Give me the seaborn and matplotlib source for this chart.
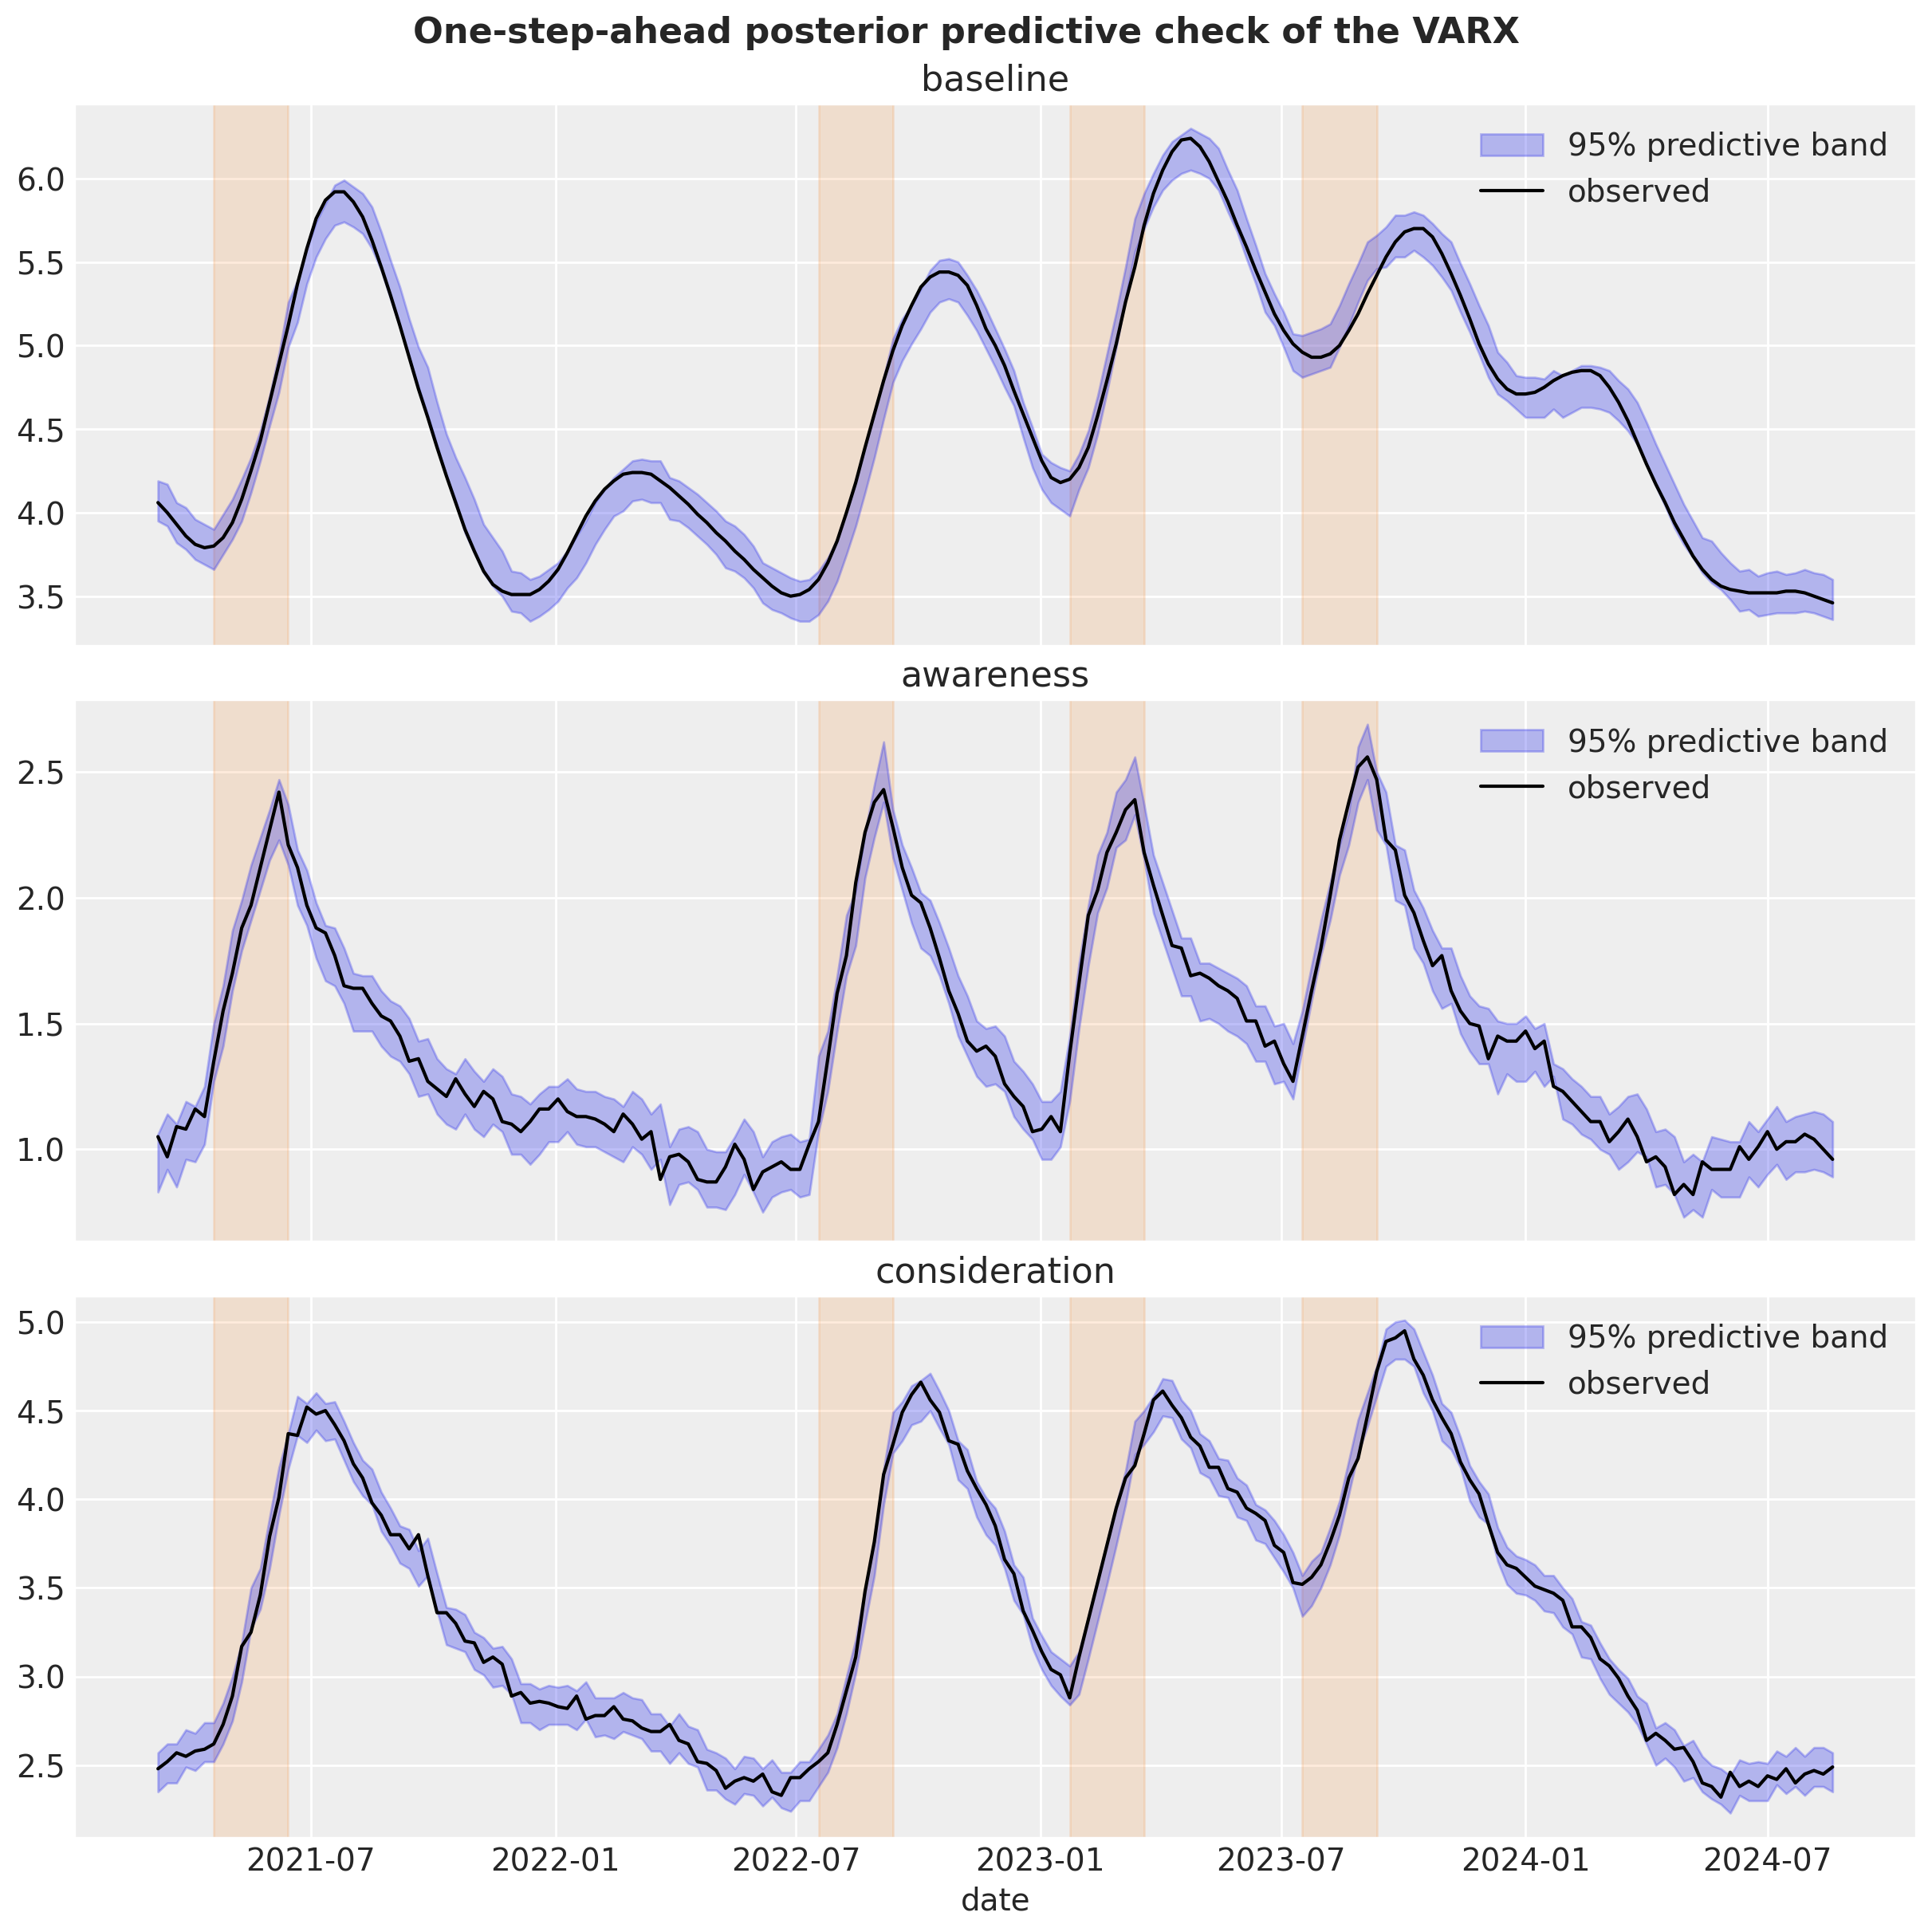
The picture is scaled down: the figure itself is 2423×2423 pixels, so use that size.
import matplotlib
matplotlib.use("Agg")
import matplotlib.pyplot as plt
import matplotlib.dates as mdates
import pandas as pd
import seaborn as sns

# weekly series, first week starts on this monday
start_date = "2021-03-08"
channels = ["baseline", "awareness", "consideration"]

baseline_obs = [
    4.06, 4.00, 3.93, 3.86, 3.81, 3.79, 3.80, 3.85, 3.94, 4.08,
    4.25, 4.43, 4.66, 4.89, 5.12, 5.37, 5.58, 5.76, 5.87, 5.92,
    5.92, 5.86, 5.77, 5.63, 5.47, 5.30, 5.12, 4.93, 4.74, 4.57,
    4.39, 4.22, 4.06, 3.90, 3.77, 3.65, 3.57, 3.53, 3.51, 3.51,
    3.51, 3.54, 3.59, 3.66, 3.76, 3.87, 3.98, 4.07, 4.14, 4.19,
    4.23, 4.24, 4.24, 4.23, 4.19, 4.15, 4.10, 4.05, 3.99, 3.94,
    3.88, 3.83, 3.77, 3.72, 3.66, 3.61, 3.56, 3.52, 3.50, 3.51,
    3.54, 3.60, 3.70, 3.83, 4.00, 4.18, 4.39, 4.59, 4.79, 4.97,
    5.12, 5.24, 5.35, 5.41, 5.44, 5.44, 5.42, 5.36, 5.24, 5.10,
    5.00, 4.88, 4.73, 4.59, 4.45, 4.31, 4.21, 4.18, 4.20, 4.27,
    4.39, 4.58, 4.79, 5.01, 5.26, 5.47, 5.72, 5.91, 6.05, 6.16,
    6.23, 6.24, 6.19, 6.10, 5.98, 5.86, 5.72, 5.59, 5.45, 5.32,
    5.19, 5.09, 5.01, 4.96, 4.93, 4.93, 4.95, 5.00, 5.09, 5.19,
    5.31, 5.42, 5.53, 5.62, 5.68, 5.70, 5.70, 5.65, 5.55, 5.43,
    5.30, 5.16, 5.01, 4.89, 4.80, 4.74, 4.71, 4.71, 4.72, 4.75,
    4.79, 4.82, 4.84, 4.85, 4.85, 4.82, 4.75, 4.66, 4.55, 4.42,
    4.29, 4.17, 4.06, 3.94, 3.84, 3.74, 3.66, 3.60, 3.56, 3.54,
    3.53, 3.52, 3.52, 3.52, 3.52, 3.53, 3.53, 3.52, 3.50, 3.48,
    3.46,
]
baseline_upper = [
    4.19, 4.17, 4.06, 4.03, 3.96, 3.93, 3.90, 3.99, 4.08, 4.20,
    4.33, 4.49, 4.70, 4.95, 5.26, 5.39, 5.58, 5.74, 5.85, 5.96,
    5.99, 5.95, 5.91, 5.83, 5.68, 5.51, 5.35, 5.16, 4.99, 4.87,
    4.66, 4.47, 4.33, 4.21, 4.08, 3.93, 3.85, 3.77, 3.65, 3.64,
    3.60, 3.62, 3.66, 3.70, 3.77, 3.86, 3.95, 4.06, 4.14, 4.21,
    4.26, 4.31, 4.32, 4.31, 4.31, 4.21, 4.19, 4.15, 4.11, 4.06,
    4.01, 3.95, 3.92, 3.87, 3.80, 3.70, 3.67, 3.64, 3.61, 3.59,
    3.60, 3.65, 3.73, 3.84, 4.01, 4.19, 4.39, 4.60, 4.81, 5.04,
    5.16, 5.24, 5.34, 5.45, 5.51, 5.52, 5.50, 5.42, 5.33, 5.22,
    5.10, 4.98, 4.85, 4.66, 4.51, 4.35, 4.30, 4.27, 4.25, 4.35,
    4.49, 4.70, 4.95, 5.20, 5.47, 5.76, 5.91, 6.03, 6.14, 6.22,
    6.26, 6.30, 6.27, 6.24, 6.18, 6.05, 5.93, 5.76, 5.60, 5.43,
    5.31, 5.20, 5.07, 5.06, 5.08, 5.10, 5.13, 5.24, 5.37, 5.49,
    5.62, 5.66, 5.71, 5.78, 5.78, 5.80, 5.78, 5.73, 5.67, 5.62,
    5.49, 5.37, 5.24, 5.12, 4.96, 4.90, 4.82, 4.81, 4.81, 4.80,
    4.85, 4.82, 4.85, 4.88, 4.88, 4.87, 4.85, 4.79, 4.74, 4.66,
    4.54, 4.41, 4.29, 4.17, 4.05, 3.95, 3.85, 3.83, 3.76, 3.70,
    3.65, 3.66, 3.62, 3.64, 3.65, 3.63, 3.64, 3.66, 3.64, 3.63,
    3.60,
]
baseline_lower = [
    3.95, 3.92, 3.82, 3.78, 3.72, 3.69, 3.66, 3.75, 3.84, 3.95,
    4.12, 4.31, 4.52, 4.72, 4.99, 5.14, 5.37, 5.53, 5.64, 5.72,
    5.74, 5.71, 5.67, 5.58, 5.45, 5.28, 5.11, 4.93, 4.75, 4.58,
    4.40, 4.22, 4.07, 3.88, 3.76, 3.64, 3.56, 3.50, 3.41, 3.40,
    3.35, 3.38, 3.42, 3.47, 3.55, 3.61, 3.70, 3.81, 3.90, 3.98,
    4.01, 4.07, 4.08, 4.06, 4.06, 3.96, 3.95, 3.91, 3.86, 3.81,
    3.75, 3.67, 3.65, 3.61, 3.55, 3.46, 3.42, 3.40, 3.37, 3.35,
    3.35, 3.39, 3.47, 3.59, 3.75, 3.92, 4.12, 4.33, 4.56, 4.78,
    4.91, 5.01, 5.10, 5.20, 5.26, 5.28, 5.26, 5.18, 5.09, 4.98,
    4.87, 4.75, 4.64, 4.45, 4.27, 4.14, 4.06, 4.02, 3.98, 4.14,
    4.27, 4.47, 4.72, 4.99, 5.28, 5.56, 5.70, 5.83, 5.93, 5.99,
    6.03, 6.05, 6.03, 6.00, 5.93, 5.80, 5.68, 5.52, 5.37, 5.20,
    5.12, 4.99, 4.85, 4.81, 4.83, 4.85, 4.87, 4.99, 5.12, 5.26,
    5.39, 5.46, 5.47, 5.53, 5.53, 5.57, 5.53, 5.48, 5.41, 5.33,
    5.20, 5.08, 4.95, 4.81, 4.71, 4.67, 4.62, 4.57, 4.57, 4.57,
    4.62, 4.57, 4.60, 4.63, 4.63, 4.62, 4.60, 4.55, 4.49, 4.41,
    4.29, 4.16, 4.04, 3.91, 3.81, 3.73, 3.64, 3.58, 3.54, 3.48,
    3.41, 3.42, 3.38, 3.39, 3.40, 3.40, 3.40, 3.41, 3.40, 3.38,
    3.36,
]

awareness_obs = [
    1.05, 0.97, 1.09, 1.08, 1.16, 1.13, 1.35, 1.55, 1.70, 1.88,
    1.97, 2.12, 2.27, 2.42, 2.21, 2.12, 1.97, 1.88, 1.86, 1.77,
    1.65, 1.64, 1.64, 1.58, 1.53, 1.51, 1.45, 1.35, 1.36, 1.27,
    1.24, 1.21, 1.28, 1.22, 1.17, 1.23, 1.20, 1.11, 1.10, 1.07,
    1.11, 1.16, 1.16, 1.20, 1.15, 1.13, 1.13, 1.12, 1.10, 1.07,
    1.14, 1.10, 1.04, 1.07, 0.88, 0.97, 0.98, 0.95, 0.88, 0.87,
    0.87, 0.93, 1.02, 0.96, 0.84, 0.91, 0.93, 0.95, 0.92, 0.92,
    1.02, 1.11, 1.36, 1.62, 1.77, 2.06, 2.26, 2.38, 2.43, 2.28,
    2.12, 2.01, 1.98, 1.88, 1.76, 1.63, 1.54, 1.43, 1.39, 1.41,
    1.37, 1.26, 1.21, 1.17, 1.07, 1.08, 1.13, 1.07, 1.38, 1.66,
    1.93, 2.03, 2.18, 2.26, 2.35, 2.39, 2.18, 2.05, 1.93, 1.81,
    1.80, 1.69, 1.70, 1.68, 1.65, 1.63, 1.60, 1.51, 1.51, 1.41,
    1.43, 1.34, 1.27, 1.45, 1.63, 1.80, 2.01, 2.23, 2.38, 2.52,
    2.56, 2.47, 2.23, 2.19, 2.01, 1.94, 1.83, 1.73, 1.77, 1.63,
    1.55, 1.50, 1.49, 1.36, 1.45, 1.43, 1.43, 1.47, 1.40, 1.43,
    1.25, 1.23, 1.19, 1.15, 1.11, 1.11, 1.03, 1.07, 1.12, 1.05,
    0.95, 0.97, 0.93, 0.82, 0.86, 0.82, 0.95, 0.92, 0.92, 0.92,
    1.01, 0.96, 1.01, 1.07, 1.00, 1.03, 1.03, 1.06, 1.04, 1.00,
    0.96,
]
awareness_upper = [
    1.06, 1.14, 1.10, 1.19, 1.17, 1.25, 1.50, 1.65, 1.87, 1.99,
    2.13, 2.24, 2.35, 2.47, 2.37, 2.19, 2.11, 1.98, 1.89, 1.88,
    1.80, 1.70, 1.69, 1.69, 1.63, 1.59, 1.57, 1.52, 1.43, 1.44,
    1.36, 1.32, 1.30, 1.36, 1.31, 1.27, 1.32, 1.29, 1.22, 1.21,
    1.18, 1.22, 1.25, 1.25, 1.28, 1.24, 1.23, 1.23, 1.21, 1.20,
    1.17, 1.23, 1.20, 1.14, 1.18, 1.01, 1.08, 1.09, 1.07, 1.00,
    0.99, 0.99, 1.05, 1.12, 1.07, 0.97, 1.03, 1.05, 1.06, 1.03,
    1.04, 1.37, 1.47, 1.69, 1.93, 2.03, 2.26, 2.45, 2.62, 2.35,
    2.21, 2.12, 2.02, 1.99, 1.90, 1.80, 1.69, 1.61, 1.51, 1.48,
    1.49, 1.45, 1.35, 1.31, 1.26, 1.19, 1.19, 1.23, 1.45, 1.74,
    1.97, 2.17, 2.26, 2.42, 2.47, 2.56, 2.37, 2.17, 2.06, 1.95,
    1.84, 1.84, 1.74, 1.74, 1.72, 1.70, 1.68, 1.65, 1.57, 1.57,
    1.49, 1.50, 1.42, 1.55, 1.73, 1.91, 2.06, 2.21, 2.34, 2.60,
    2.69, 2.50, 2.42, 2.21, 2.19, 2.03, 1.96, 1.87, 1.80, 1.80,
    1.69, 1.61, 1.57, 1.56, 1.51, 1.50, 1.50, 1.53, 1.48, 1.50,
    1.34, 1.32, 1.28, 1.25, 1.21, 1.21, 1.14, 1.17, 1.21, 1.22,
    1.16, 1.07, 1.08, 1.05, 0.95, 0.98, 0.95, 1.05, 1.04, 1.03,
    1.03, 1.11, 1.07, 1.12, 1.17, 1.11, 1.13, 1.14, 1.15, 1.14,
    1.11,
]
awareness_lower = [
    0.83, 0.92, 0.85, 0.96, 0.95, 1.02, 1.27, 1.41, 1.63, 1.79,
    1.91, 2.03, 2.15, 2.23, 2.13, 1.97, 1.89, 1.76, 1.67, 1.65,
    1.58, 1.47, 1.47, 1.47, 1.41, 1.37, 1.35, 1.30, 1.21, 1.22,
    1.14, 1.10, 1.08, 1.14, 1.08, 1.05, 1.10, 1.07, 0.98, 0.98,
    0.94, 0.98, 1.03, 1.03, 1.07, 1.02, 1.01, 1.01, 0.99, 0.97,
    0.95, 1.01, 0.98, 0.92, 0.96, 0.78, 0.86, 0.87, 0.84, 0.77,
    0.77, 0.76, 0.82, 0.90, 0.83, 0.75, 0.81, 0.83, 0.84, 0.81,
    0.82, 1.07, 1.23, 1.47, 1.69, 1.81, 2.08, 2.24, 2.38, 2.16,
    2.03, 1.90, 1.80, 1.77, 1.69, 1.58, 1.45, 1.37, 1.29, 1.25,
    1.26, 1.23, 1.13, 1.08, 1.04, 0.96, 0.96, 1.01, 1.19, 1.48,
    1.73, 1.94, 2.04, 2.20, 2.23, 2.33, 2.15, 1.94, 1.83, 1.72,
    1.61, 1.61, 1.51, 1.52, 1.50, 1.47, 1.45, 1.42, 1.35, 1.35,
    1.26, 1.27, 1.20, 1.40, 1.59, 1.77, 1.91, 2.09, 2.21, 2.38,
    2.47, 2.27, 2.21, 1.99, 1.97, 1.80, 1.74, 1.63, 1.56, 1.58,
    1.46, 1.39, 1.34, 1.34, 1.22, 1.30, 1.27, 1.27, 1.31, 1.25,
    1.29, 1.12, 1.10, 1.06, 1.04, 1.00, 0.98, 0.92, 0.95, 0.99,
    0.97, 0.85, 0.86, 0.82, 0.73, 0.76, 0.73, 0.84, 0.81, 0.81,
    0.81, 0.89, 0.85, 0.90, 0.94, 0.88, 0.91, 0.91, 0.92, 0.91,
    0.89,
]

consideration_obs = [
    2.48, 2.52, 2.57, 2.55, 2.58, 2.59, 2.62, 2.73, 2.89, 3.17,
    3.25, 3.46, 3.79, 4.01, 4.37, 4.36, 4.52, 4.48, 4.50, 4.42,
    4.33, 4.20, 4.12, 3.98, 3.91, 3.80, 3.80, 3.72, 3.80, 3.57,
    3.36, 3.36, 3.30, 3.20, 3.19, 3.08, 3.11, 3.07, 2.89, 2.91,
    2.85, 2.86, 2.85, 2.83, 2.82, 2.89, 2.76, 2.78, 2.78, 2.83,
    2.76, 2.75, 2.71, 2.69, 2.69, 2.73, 2.64, 2.62, 2.52, 2.51,
    2.47, 2.37, 2.41, 2.43, 2.41, 2.45, 2.35, 2.33, 2.43, 2.43,
    2.48, 2.52, 2.57, 2.73, 2.92, 3.11, 3.48, 3.76, 4.14, 4.31,
    4.49, 4.59, 4.66, 4.56, 4.49, 4.33, 4.31, 4.16, 4.06, 3.97,
    3.85, 3.66, 3.58, 3.37, 3.26, 3.14, 3.04, 3.01, 2.88, 3.11,
    3.32, 3.53, 3.74, 3.95, 4.12, 4.19, 4.37, 4.56, 4.61, 4.53,
    4.46, 4.35, 4.30, 4.18, 4.18, 4.06, 4.04, 3.95, 3.92, 3.88,
    3.74, 3.70, 3.53, 3.52, 3.56, 3.63, 3.76, 3.91, 4.12, 4.23,
    4.47, 4.72, 4.89, 4.91, 4.95, 4.79, 4.70, 4.56, 4.46, 4.37,
    4.21, 4.11, 4.03, 3.86, 3.70, 3.63, 3.61, 3.56, 3.51, 3.49,
    3.47, 3.43, 3.28, 3.28, 3.22, 3.10, 3.06, 2.99, 2.89, 2.81,
    2.64, 2.68, 2.64, 2.59, 2.60, 2.52, 2.40, 2.38, 2.32, 2.46,
    2.38, 2.41, 2.38, 2.44, 2.42, 2.48, 2.40, 2.45, 2.47, 2.45,
    2.49,
]
consideration_upper = [
    2.57, 2.62, 2.62, 2.70, 2.68, 2.74, 2.74, 2.85, 3.00, 3.19,
    3.50, 3.61, 3.90, 4.18, 4.37, 4.58, 4.54, 4.60, 4.54, 4.55,
    4.44, 4.32, 4.22, 4.17, 4.04, 3.95, 3.85, 3.83, 3.71, 3.78,
    3.58, 3.39, 3.38, 3.35, 3.25, 3.22, 3.16, 3.17, 3.10, 2.96,
    2.96, 2.93, 2.95, 2.94, 2.95, 2.92, 2.97, 2.88, 2.88, 2.88,
    2.91, 2.88, 2.87, 2.79, 2.79, 2.72, 2.79, 2.72, 2.70, 2.59,
    2.57, 2.54, 2.48, 2.55, 2.54, 2.48, 2.53, 2.46, 2.46, 2.52,
    2.52, 2.59, 2.67, 2.79, 3.00, 3.21, 3.50, 3.76, 4.17, 4.49,
    4.55, 4.64, 4.67, 4.71, 4.61, 4.50, 4.33, 4.28, 4.10, 4.01,
    3.95, 3.82, 3.63, 3.56, 3.33, 3.23, 3.14, 3.10, 3.06, 3.14,
    3.34, 3.55, 3.76, 3.97, 4.16, 4.44, 4.50, 4.58, 4.68, 4.67,
    4.56, 4.50, 4.37, 4.33, 4.23, 4.22, 4.12, 4.08, 3.97, 3.94,
    3.88, 3.80, 3.70, 3.57, 3.65, 3.70, 3.84, 3.99, 4.22, 4.45,
    4.60, 4.75, 4.96, 5.00, 5.01, 4.96, 4.83, 4.70, 4.54, 4.49,
    4.35, 4.19, 4.10, 4.03, 3.84, 3.73, 3.68, 3.66, 3.63, 3.57,
    3.57, 3.50, 3.44, 3.31, 3.29, 3.19, 3.10, 3.04, 2.99, 2.89,
    2.85, 2.71, 2.74, 2.70, 2.61, 2.64, 2.55, 2.50, 2.48, 2.44,
    2.53, 2.51, 2.52, 2.51, 2.58, 2.55, 2.60, 2.55, 2.60, 2.60,
    2.57,
]
consideration_lower = [
    2.35, 2.40, 2.40, 2.49, 2.47, 2.52, 2.52, 2.62, 2.75, 2.97,
    3.27, 3.38, 3.61, 3.91, 4.17, 4.36, 4.32, 4.39, 4.33, 4.34,
    4.22, 4.10, 4.02, 3.97, 3.82, 3.74, 3.64, 3.61, 3.51, 3.57,
    3.37, 3.18, 3.16, 3.14, 3.04, 3.01, 2.94, 2.95, 2.90, 2.74,
    2.74, 2.70, 2.73, 2.73, 2.73, 2.70, 2.76, 2.66, 2.67, 2.65,
    2.69, 2.67, 2.65, 2.58, 2.58, 2.51, 2.57, 2.51, 2.49, 2.36,
    2.36, 2.31, 2.28, 2.34, 2.33, 2.27, 2.32, 2.26, 2.24, 2.30,
    2.30, 2.38, 2.46, 2.60, 2.79, 3.02, 3.30, 3.57, 3.97, 4.26,
    4.33, 4.42, 4.44, 4.50, 4.40, 4.31, 4.11, 4.06, 3.90, 3.80,
    3.74, 3.61, 3.43, 3.35, 3.16, 3.04, 2.95, 2.89, 2.84, 2.90,
    3.10, 3.31, 3.52, 3.74, 3.97, 4.25, 4.31, 4.38, 4.47, 4.46,
    4.34, 4.29, 4.15, 4.12, 4.02, 4.01, 3.90, 3.88, 3.77, 3.75,
    3.67, 3.59, 3.50, 3.34, 3.40, 3.50, 3.63, 3.80, 4.03, 4.26,
    4.41, 4.58, 4.75, 4.79, 4.79, 4.75, 4.60, 4.50, 4.33, 4.28,
    4.18, 3.99, 3.90, 3.86, 3.65, 3.52, 3.47, 3.46, 3.43, 3.37,
    3.36, 3.28, 3.24, 3.11, 3.10, 2.99, 2.90, 2.85, 2.80, 2.73,
    2.62, 2.50, 2.54, 2.49, 2.41, 2.43, 2.35, 2.31, 2.28, 2.23,
    2.33, 2.30, 2.30, 2.30, 2.39, 2.34, 2.38, 2.33, 2.38, 2.38,
    2.35,
]

# media campaign windows (shaded)
campaign_starts = ["2021-04-19", "2022-07-18", "2023-01-23", "2023-07-17"]
campaign_ends = ["2021-06-14", "2022-09-12", "2023-03-20", "2023-09-11"]

observed = {"baseline": baseline_obs, "awareness": awareness_obs, "consideration": consideration_obs}
band_upper = {"baseline": baseline_upper, "awareness": awareness_upper, "consideration": consideration_upper}
band_lower = {"baseline": baseline_lower, "awareness": awareness_lower, "consideration": consideration_lower}

sns.set_theme(style="darkgrid", rc={
    "axes.facecolor": "#eeeeee",
    "grid.color": "white",
    "grid.linewidth": 1.0,
    "text.color": "0.15",
    "axes.labelcolor": "0.15",
    "xtick.color": "0.15",
    "ytick.color": "0.15",
    "xtick.major.size": 0,
    "ytick.major.size": 0,
    "xtick.major.pad": 4,
    "ytick.major.pad": 4,
    "axes.titlesize": 16,
    "axes.labelsize": 14,
    "xtick.labelsize": 14,
    "ytick.labelsize": 14,
    "legend.fontsize": 14,
})
plt.rcParams["font.family"] = ["DejaVu Sans"]

dates = pd.date_range(start_date, periods=len(baseline_obs), freq="W-MON")

fig, axes = plt.subplots(3, 1, figsize=(12, 12), dpi=200, sharex=True, layout="constrained")

for ax, name in zip(axes, channels):
    df = pd.DataFrame({
        "date": dates,
        "observed": observed[name],
        "lower": band_lower[name],
        "upper": band_upper[name],
    })
    for s, e in zip(campaign_starts, campaign_ends):
        ax.axvspan(pd.Timestamp(s), pd.Timestamp(e), color="#fa7c17", alpha=0.15)
    ax.fill_between(df["date"], df["lower"], df["upper"], color="#2a2eec", alpha=0.3,
                    label="95% predictive band")
    sns.lineplot(data=df, x="date", y="observed", color="black", linewidth=1.5,
                 label="observed", ax=ax)
    ax.legend(loc="upper right", frameon=False)
    ax.set_title(name)
    ax.set_ylabel("")
    ax.set_xlabel("")

axes[-1].set_xlabel("date")
axes[-1].xaxis.set_major_locator(mdates.MonthLocator(bymonth=[1, 7]))
axes[-1].xaxis.set_major_formatter(mdates.DateFormatter("%Y-%m"))

fig.suptitle("One-step-ahead posterior predictive check of the VARX", fontsize=16, fontweight="bold")

fig.savefig("out.png", dpi=200, bbox_inches="tight", pad_inches=0.1)
